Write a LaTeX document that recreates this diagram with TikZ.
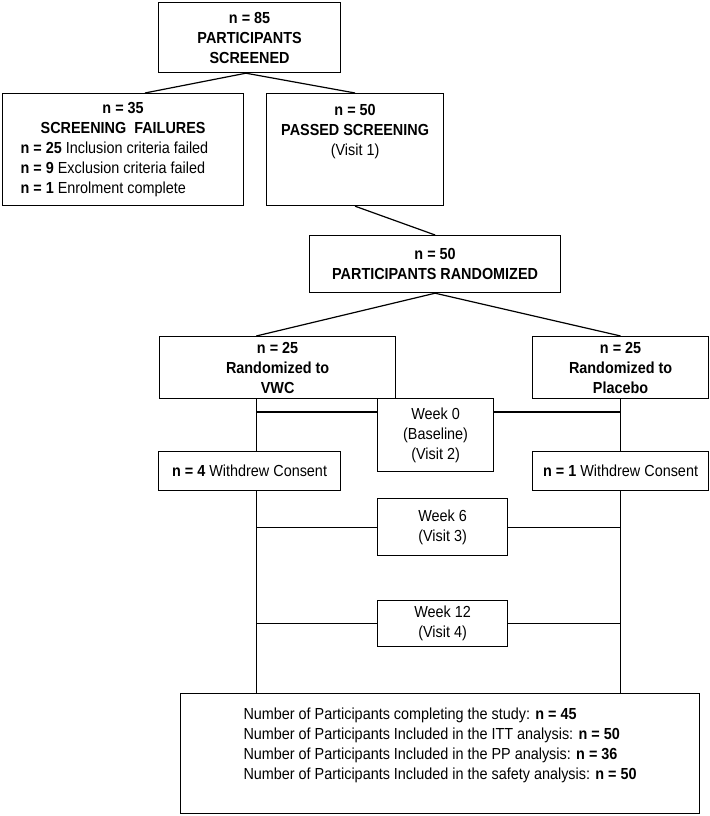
\documentclass[tikz,border=0pt]{standalone}
\usepackage{fontspec}
\setmainfont{Liberation Sans}[FakeStretch=0.9]
\usetikzlibrary{calc}
\begin{document}
\begin{tikzpicture}[x=1pt,y=-1pt,
  box/.style={draw, line width=1.2pt, rectangle, inner sep=0pt, anchor=north west, align=center, font=\fontsize{16}{20}\selectfont},
  conn/.style={line width=1.2pt}]
\useasboundingbox[fill=white] (0,0) rectangle (709,816);
\node[box, minimum width=182pt, minimum height=70pt] (top) at (158,2) {\textbf{n = 85}\\\textbf{PARTICIPANTS}\\\textbf{SCREENED}};
\node[box, minimum width=241pt, minimum height=112pt] (fail) at (2,93) {\parbox{205pt}{\fontsize{16}{20}\selectfont{\centering\textbf{n = 35}\\\textbf{SCREENING\ \ FAILURES}\par}\raggedright\textbf{n = 25} Inclusion criteria failed\\\textbf{n = 9} Exclusion criteria failed\\\textbf{n = 1} Enrolment complete\par}};
\node[box, minimum width=177pt, minimum height=112pt] (passed) at (266,93) {\textbf{n = 50}\\\textbf{PASSED SCREENING}\\(Visit 1)\\\mbox{}\\\mbox{}};
\node[box, minimum width=251pt, minimum height=57pt] (rand) at (309,235) {\textbf{n = 50}\\\textbf{PARTICIPANTS RANDOMIZED}};
\node[box, minimum width=236pt, minimum height=62pt] (vwc) at (159,336) {\textbf{n = 25}\\\textbf{Randomized to}\\\textbf{VWC}};
\node[box, minimum width=176pt, minimum height=62pt] (placebo) at (532,336) {\textbf{n = 25}\\\textbf{Randomized to}\\\textbf{Placebo}};
\node[box, minimum width=116pt, minimum height=73pt] (w0) at (377,398) {Week 0\\(Baseline)\\(Visit 2)};
\node[box, minimum width=182pt, minimum height=39pt] (wl) at (158,451) {\textbf{n = 4} Withdrew Consent};
\node[box, minimum width=176pt, minimum height=39pt] (wr) at (532,451) {\textbf{n = 1} Withdrew Consent};
\node[box, minimum width=130pt, minimum height=57pt] (w6) at (377,498) {Week 6\\(Visit 3)};
\node[box, minimum width=130pt, minimum height=46pt] (w12) at (377,600) {Week 12\\(Visit 4)};
\node[box, minimum width=519pt, minimum height=120pt, align=left] (final) at (180,693) {Number of Participants completing the study: \textbf{n = 45}\\Number of Participants Included in the ITT analysis: \textbf{n = 50}\\Number of Participants Included in the PP analysis: \textbf{n = 36}\\Number of Participants Included in the safety analysis: \textbf{n = 50}\\\mbox{}};
\draw[conn] ($(top.south west)!.48!(top.south east)$) -- ($(fail.north west)!.59!(fail.north east)$);
\draw[conn] ($(top.south west)!.48!(top.south east)$) -- (passed.north);
\draw[conn] (passed.south) -- (rand.north);
\draw[conn] (rand.south) -- ($(vwc.north west)!.41!(vwc.north east)$);
\draw[conn] (rand.south) -- (placebo.north);
\coordinate (L) at ($(vwc.south west)!.41!(vwc.south east)$);
\coordinate (R) at (placebo.south);
\coordinate (w0y) at ($(w0.north west)+(0,14)$);
\coordinate (w0z) at ($(w0.north east)+(0,14)$);
\draw[conn] (L) -- (L |- wl.north);
\draw[conn] (R) -- (R |- wr.north);
\draw[conn] (L |- wl.south) -- (L |- final.north);
\draw[conn] (R |- wr.south) -- (R |- final.north);
\draw[conn] (L |- w0y) -- (w0y);
\draw[conn] (w0z) -- (R |- w0z);
\draw[conn] (L |- w6.west) -- (w6.west);
\draw[conn] (w6.east) -- (R |- w6.east);
\draw[conn] (L |- w12.west) -- (w12.west);
\draw[conn] (w12.east) -- (R |- w12.east);
\end{tikzpicture}
\end{document}
